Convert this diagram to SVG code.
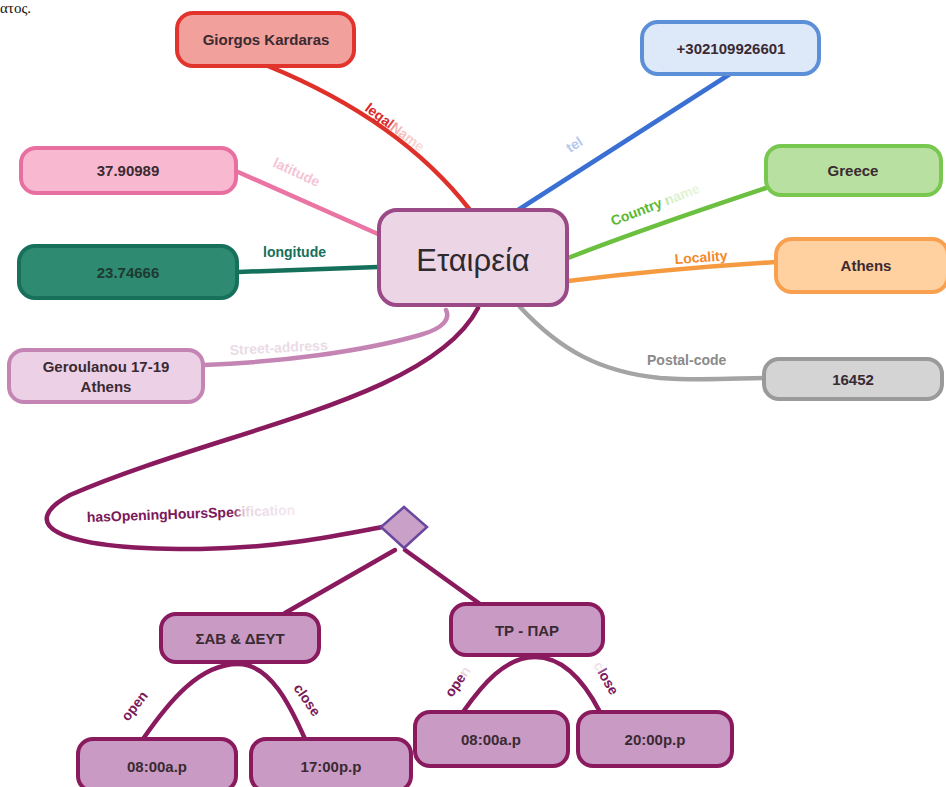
<svg xmlns="http://www.w3.org/2000/svg" width="946" height="787" viewBox="0 0 946 787">
  <defs>
    <style>
      .node text { font-family: "Liberation Sans", Arial, sans-serif; font-weight: bold; font-size: 15px; fill: #3a2a32; text-anchor: middle; }
      .node text.title { font-size: 31px; font-weight: normal; fill: #2e2a2e; }
      .box { stroke-width: 4; }
      .edge { fill: none; stroke-width: 4.5; stroke-linecap: round; }
      .lbl { font-family: "Liberation Sans", Arial, sans-serif; font-weight: bold; font-size: 14px; }
      .sched rect { fill: #c99ac4; stroke: #8a1a5e; }
    </style>
    <linearGradient id="fadeRed" x1="0" y1="0" x2="1" y2="0">
      <stop offset="0.4" stop-color="#d8262a"/>
      <stop offset="0.5" stop-color="#f3b0b0"/>
      <stop offset="1" stop-color="#fbe0e0"/>
    </linearGradient>
    <linearGradient id="fadeGreen" x1="0" y1="0" x2="1" y2="0">
      <stop offset="0.55" stop-color="#5cb830"/>
      <stop offset="0.65" stop-color="#d8efc8"/>
      <stop offset="1" stop-color="#e8f6de"/>
    </linearGradient>
    <linearGradient id="fadeMag" x1="0" y1="0" x2="1" y2="0">
      <stop offset="0.7" stop-color="#7a1a5a"/>
      <stop offset="0.76" stop-color="#e8d4e2"/>
      <stop offset="1" stop-color="#f4e8f0"/>
    </linearGradient>
    <linearGradient id="fadeOpen" x1="0" y1="0" x2="1" y2="0">
      <stop offset="0.7" stop-color="#7a1a5a"/>
      <stop offset="0.8" stop-color="#eedde8"/>
    </linearGradient>
    <linearGradient id="fadeClose" x1="0" y1="0" x2="1" y2="0">
      <stop offset="0.2" stop-color="#f0e0ea"/>
      <stop offset="0.3" stop-color="#7a1a5a"/>
    </linearGradient>
  </defs>

  <rect width="946" height="787" fill="#ffffff"/>

  <!-- text running in from the page above -->
  <text x="0" y="13" font-family="Liberation Serif, serif" font-size="15" fill="#111">ατος.</text>

  <!-- connectors -->
  <g id="connectors">
    <path class="edge" stroke="#e0302a" d="M268,66 Q400,120 470,210"/>
    <path class="edge" stroke="#3a70d4" d="M730,74 L518,210"/>
    <path class="edge" stroke="#ea74a4" d="M238,172 L378,234"/>
    <path class="edge" stroke="#14705a" d="M238,272 C290,270 340,268 378,267"/>
    <path class="edge" stroke="#6cc040" d="M568,258 C640,230 700,210 766,188"/>
    <path class="edge" stroke="#f59a40" d="M568,281 C640,272 710,266 776,262"/>
    <path class="edge" stroke="#a4a4a4" stroke-width="5" d="M520,307 C560,350 600,372 660,378 C700,381 740,378 764,378"/>
    <path class="edge" stroke="#c585b4" d="M204,365 C280,362 360,352 420,335 C445,328 450,318 446,310"/>
    <path class="edge" stroke="#8a1a5e" d="M478,308 C430,400 220,430 70,495 C20,522 45,550 200,549 C280,548 340,535 382,527"/>
    <path class="edge" stroke="#8a1a5e" d="M395,550 L285,613"/>
    <path class="edge" stroke="#8a1a5e" d="M405,550 L480,604"/>
    <path class="edge" stroke="#8a1a5e" d="M238,664 C200,664 170,700 143,739"/>
    <path class="edge" stroke="#8a1a5e" d="M238,664 C270,664 290,705 305,739"/>
    <path class="edge" stroke="#8a1a5e" d="M535,657 C505,657 482,685 463,712"/>
    <path class="edge" stroke="#8a1a5e" d="M535,657 C565,657 586,685 600,712"/>

    <!-- connector labels -->
    <text class="lbl" fill="url(#fadeRed)" transform="translate(364,110) rotate(37)">legalName</text>
    <text class="lbl" fill="#f4c4d6" font-weight="normal" transform="translate(272,166) rotate(25)">latitude</text>
    <text class="lbl" fill="#b4c8ee" font-weight="normal" transform="translate(570,153) rotate(-33)">tel</text>
    <text class="lbl" fill="url(#fadeGreen)" transform="translate(613,226) rotate(-21)">Country name</text>
    <text class="lbl" fill="#14705a" x="263" y="257">longitude</text>
    <text class="lbl" fill="#f5882a" transform="translate(675,264) rotate(-4)">Locality</text>
    <text class="lbl" fill="#8a8a8a" font-weight="normal" font-size="15" x="647" y="365">Postal-code</text>
    <text class="lbl" fill="#eadbe6" font-weight="normal" font-size="15" transform="translate(230,355) rotate(-3)">Street-address</text>
    <text class="lbl" fill="url(#fadeMag)" transform="translate(87,522) rotate(-2)">hasOpeningHoursSpecification</text>
    <text class="lbl" fill="#7a1a5a" font-size="13" transform="translate(128,722) rotate(-52)">open</text>
    <text class="lbl" fill="#7a1a5a" font-size="13" transform="translate(293,688) rotate(55)">close</text>
    <text class="lbl" fill="url(#fadeOpen)" font-size="13" transform="translate(452,698) rotate(-55)">open</text>
    <text class="lbl" fill="url(#fadeClose)" font-size="13" transform="translate(593,665) rotate(60)">close</text>
  </g>

  <!-- nodes -->
  <g id="n-center" class="node">
    <rect class="box" x="379" y="210" width="188" height="95" rx="18" fill="#ecd6e6" stroke="#9a4a86"/>
    <text class="title" x="473" y="271">Εταιρεία</text>
  </g>
  <g id="n-founder" class="node">
    <rect class="box" x="177" y="13" width="177" height="53" rx="16" fill="#f1a09c" stroke="#e0342c"/>
    <text x="266" y="45">Giorgos Kardaras</text>
  </g>
  <g id="n-tel" class="node">
    <rect class="box" x="642" y="22" width="177" height="52" rx="16" fill="#dde8f8" stroke="#5b8fd8"/>
    <text x="731" y="54">+302109926601</text>
  </g>
  <g id="n-lat" class="node">
    <rect class="box" x="21" y="148" width="215" height="45" rx="15" fill="#f8b8d0" stroke="#e870a0"/>
    <text x="128" y="176">37.90989</text>
  </g>
  <g id="n-country" class="node">
    <rect class="box" x="766" y="146" width="175" height="49" rx="15" fill="#b8e0a0" stroke="#78c850"/>
    <text x="853" y="176">Greece</text>
  </g>
  <g id="n-lon" class="node">
    <rect class="box" x="19" y="246" width="218" height="52" rx="16" fill="#2e8a70" stroke="#17705a"/>
    <text x="128" y="278" style="fill:#1e3a32">23.74666</text>
  </g>
  <g id="n-locality" class="node">
    <rect class="box" x="776" y="239" width="172" height="53" rx="16" fill="#ffd0a0" stroke="#f8a050"/>
    <text x="866" y="271">Athens</text>
  </g>
  <g id="n-street" class="node">
    <rect class="box" x="9" y="350" width="194" height="52" rx="15" fill="#ecd0e6" stroke="#c585b4"/>
    <text x="106" y="372">Geroulanou 17-19</text>
    <text x="106" y="392">Athens</text>
  </g>
  <g id="n-postal" class="node">
    <rect class="box" x="764" y="359" width="178" height="40" rx="15" fill="#d4d4d4" stroke="#9a9a9a"/>
    <text x="853" y="385">16452</text>
  </g>
  <g id="n-hours" class="node">
    <polygon points="404,507 427,527 404,548 381,527" fill="#c8a0c8" stroke="#6a48a0" stroke-width="2.5"/>
  </g>
  <g id="n-satmon" class="node sched">
    <rect class="box" x="161" y="614" width="158" height="48" rx="15"/>
    <text x="240" y="644">ΣΑΒ &amp; ΔΕΥΤ</text>
  </g>
  <g id="n-tuefri" class="node sched">
    <rect class="box" x="451" y="604" width="152" height="51" rx="15"/>
    <text x="527" y="636">ΤΡ - ΠΑΡ</text>
  </g>
  <g id="n-open1" class="node sched">
    <rect class="box" x="78" y="739" width="158" height="52" rx="15"/>
    <text x="157" y="772">08:00a.p</text>
  </g>
  <g id="n-close1" class="node sched">
    <rect class="box" x="251" y="739" width="160" height="52" rx="15"/>
    <text x="331" y="772">17:00p.p</text>
  </g>
  <g id="n-open2" class="node sched">
    <rect class="box" x="415" y="712" width="153" height="54" rx="15"/>
    <text x="491" y="745">08:00a.p</text>
  </g>
  <g id="n-close2" class="node sched">
    <rect class="box" x="578" y="712" width="154" height="54" rx="15"/>
    <text x="655" y="745">20:00p.p</text>
  </g>
</svg>
